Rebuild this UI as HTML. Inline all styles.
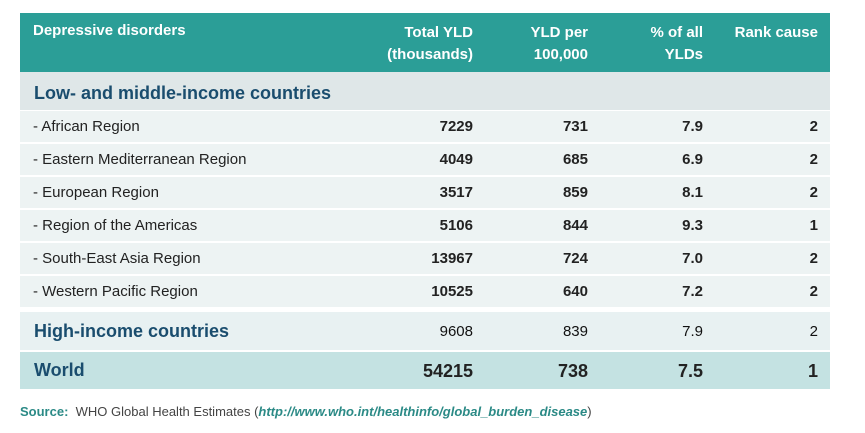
<!DOCTYPE html>
<html><head><meta charset="utf-8"><style>
body{margin:0;width:865px;height:433px;background:#fff;font-family:"Liberation Sans",sans-serif;position:relative;overflow:hidden}
.r{position:absolute;left:20px;width:810px}
.t{position:absolute;white-space:nowrap}
.n{position:absolute;text-align:right;white-space:nowrap;font-weight:bold;font-size:15px;color:#222}
</style></head><body>
<div class="r" style="top:13px;height:59px;background:#2b9e97"></div>
<div class="t" style="left:33px;top:22px;color:#fff;font-weight:bold;font-size:15px">Depressive disorders</div>
<div class="n" style="right:392px;top:22px;color:#fff;line-height:22px">Total YLD<br>(thousands)</div>
<div class="n" style="right:277px;top:22px;color:#fff;line-height:22px">YLD per<br>100,000</div>
<div class="n" style="right:162px;top:22px;color:#fff;line-height:22px">% of all<br>YLDs</div>
<div class="n" style="right:47px;top:22px;color:#fff;line-height:22px">Rank cause</div>
<div class="r" style="top:72px;height:38px;background:#dfe7e8"></div>
<div class="t" style="left:34px;top:83px;color:#1a4d6e;font-weight:bold;font-size:18px">Low- and middle-income countries</div>
<div id="rows"></div>
<div class="r" style="top:312px;height:38px;background:#e8f1f2"></div>
<div class="t" style="left:34px;top:321px;color:#1a4d6e;font-weight:bold;font-size:18px">High-income countries</div>
<div class="n" style="right:392px;top:323px;font-weight:normal;color:#111">9608</div>
<div class="n" style="right:277px;top:323px;font-weight:normal;color:#111">839</div>
<div class="n" style="right:162px;top:323px;font-weight:normal;color:#111">7.9</div>
<div class="n" style="right:47px;top:323px;font-weight:normal;color:#111">2</div>
<div class="r" style="top:352px;height:37px;background:#c4e2e2"></div>
<div class="t" style="left:34px;top:360px;color:#1a4d6e;font-weight:bold;font-size:18px">World</div>
<div class="n" style="right:392px;top:361px;font-size:18px">54215</div>
<div class="n" style="right:277px;top:361px;font-size:18px">738</div>
<div class="n" style="right:162px;top:361px;font-size:18px">7.5</div>
<div class="n" style="right:47px;top:361px;font-size:18px">1</div>
<div class="t" style="left:20px;top:404px;font-size:13px;color:#444"><b style="color:#2b8a86">Source:</b>&nbsp; WHO Global Health Estimates (<i style="color:#2b8a86;font-weight:bold">http://www.who.int/healthinfo/global_burden_disease</i>)</div>
<script>
var d=[["- African Region","7229","731","7.9","2"],["- Eastern Mediterranean Region","4049","685","6.9","2"],["- European Region","3517","859","8.1","2"],["- Region of the Americas","5106","844","9.3","1"],["- South-East Asia Region","13967","724","7.0","2"],["- Western Pacific Region","10525","640","7.2","2"]];
var h="";d.forEach(function(r,i){var y=111+i*33;
h+='<div class="r" style="top:'+y+'px;height:31px;background:#edf3f3"></div>';
h+='<div class="t" style="left:33px;top:'+(y+7)+'px;font-size:15px;color:#222">'+r[0]+'</div>';
var rs=[392,277,162,47];for(var k=0;k<4;k++)h+='<div class="n" style="right:'+rs[k]+'px;top:'+(y+7)+'px">'+r[k+1]+'</div>';});
document.getElementById("rows").outerHTML=h;
</script>
</body></html>
